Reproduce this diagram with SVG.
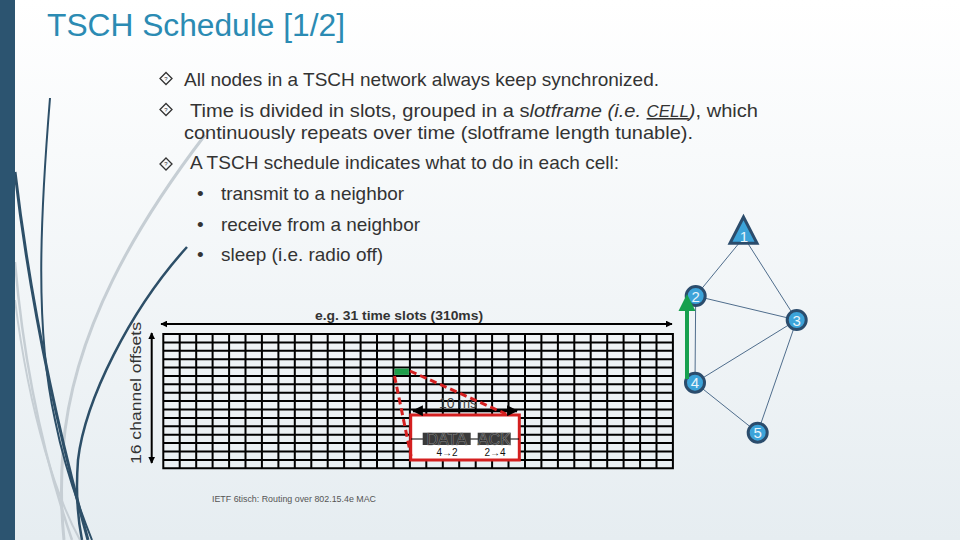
<svg xmlns="http://www.w3.org/2000/svg" width="960" height="540" viewBox="0 0 960 540">
<defs>
<linearGradient id="bg" x1="0" y1="0" x2="0" y2="1">
<stop offset="0" stop-color="#ffffff"/>
<stop offset="1" stop-color="#e6edf1"/>
</linearGradient>
<marker id="ah" viewBox="0 0 10 10" refX="9" refY="5" markerWidth="7" markerHeight="7" markerUnits="userSpaceOnUse" orient="auto-start-reverse">
<path d="M0,0 L10,5 L0,10 z" fill="#000"/>
</marker>
<marker id="ahb" viewBox="0 0 10 10" refX="9" refY="5" markerWidth="11" markerHeight="11" markerUnits="userSpaceOnUse" orient="auto-start-reverse">
<path d="M0,0 L10,5 L0,10 z" fill="#000"/>
</marker>
<style>
.t{font-family:"Liberation Sans",Arial,sans-serif;fill:#333;font-size:19px}
.dia{fill:none;stroke:#333;stroke-width:1.3}
.q{font-family:"Liberation Sans",Arial,sans-serif;font-size:6px;fill:#333;text-anchor:middle}
.edge{stroke:#4f6d8c;stroke-width:1;fill:none}
.node{fill:#3ca3d9;stroke:#2b4c6c;stroke-width:3}
.nl{font-family:"Liberation Sans",Arial,sans-serif;font-size:15px;fill:#e9f5fb;text-anchor:middle}
.dark{fill:none;stroke:#2d4f68}
.light{fill:none;stroke:#c6ced4}
</style>
</defs>
<rect x="0" y="0" width="960" height="540" fill="url(#bg)"/>
<g id="decoration">
<path class="light" stroke-width="3" d="M205,135 C140,220 72,330 63,450 C60,490 62,520 64,540"/>
<path class="light" stroke-width="2.5" d="M15,262 C25,380 48,470 72,540"/>
<path class="light" stroke-width="2" d="M15,300 C30,420 58,500 80,540"/>
<path class="dark" stroke-width="2" d="M50,98 C40,220 35,330 55,420 C65,470 80,510 92,540"/>
<path class="dark" stroke-width="3" d="M15,172 C30,300 55,420 88,540"/>
<path class="dark" stroke-width="2.5" d="M187,247 C130,310 85,400 78,460 C75,500 80,530 82,540"/>
<rect x="0" y="0" width="15" height="540" fill="#2c5470"/>
</g>
<text x="47" y="36" textLength="298" lengthAdjust="spacingAndGlyphs" font-family="Liberation Sans,Arial,sans-serif" font-size="31" fill="#2b8bb3">TSCH Schedule [1/2]</text>
<g id="bullets">
<polygon class="dia" points="166,72.5 172,78.5 166,84.5 160,78.5"/>
<text class="q" x="166" y="80.5">?</text>
<text class="t" x="184" y="86" textLength="475" lengthAdjust="spacingAndGlyphs">All nodes in a TSCH network always keep synchronized.</text>
<polygon class="dia" points="166,103.5 172,109.5 166,115.5 160,109.5"/>
<text class="q" x="166" y="111.5">?</text>
<text class="t" x="190" y="117" textLength="568" lengthAdjust="spacingAndGlyphs">Time is divided in slots, grouped in a s<tspan font-style="italic">lotframe (i.e. </tspan><tspan font-style="italic" text-decoration="underline" font-size="16">CELL</tspan><tspan font-style="italic">)</tspan>, which</text>
<text class="t" x="184" y="139" textLength="509" lengthAdjust="spacingAndGlyphs">continuously repeats over time (slotframe length tunable).</text>
<polygon class="dia" points="166,158 172,164 166,170 160,164"/>
<text class="q" x="166" y="166">?</text>
<text class="t" x="190" y="169" textLength="429" lengthAdjust="spacingAndGlyphs">A TSCH schedule indicates what to do in each cell:</text>
<text class="t" x="197" y="200">•</text>
<text class="t" x="221" y="200" textLength="183" lengthAdjust="spacingAndGlyphs">transmit to a neighbor</text>
<text class="t" x="197" y="231">•</text>
<text class="t" x="221" y="231" textLength="199" lengthAdjust="spacingAndGlyphs">receive from a neighbor</text>
<text class="t" x="197" y="261">•</text>
<text class="t" x="221" y="261" textLength="162" lengthAdjust="spacingAndGlyphs">sleep (i.e. radio off)</text>
</g>
<g id="schedule">
<path stroke="#000" stroke-width="2" fill="none" d="M163.3 334V468.3M179.7 334V468.3M196.2 334V468.3M212.6 334V468.3M229.1 334V468.3M245.5 334V468.3M261.9 334V468.3M278.4 334V468.3M294.8 334V468.3M311.3 334V468.3M327.7 334V468.3M344.1 334V468.3M360.6 334V468.3M377 334V468.3M393.5 334V468.3M409.9 334V468.3M426.3 334V468.3M442.8 334V468.3M459.2 334V468.3M475.7 334V468.3M492.1 334V468.3M508.5 334V468.3M525 334V468.3M541.4 334V468.3M557.9 334V468.3M574.3 334V468.3M590.7 334V468.3M607.2 334V468.3M623.6 334V468.3M640.1 334V468.3M656.5 334V468.3M672.9 334V468.3M162.3 334H673.9M162.3 342.4H673.9M162.3 350.8H673.9M162.3 359.2H673.9M162.3 367.6H673.9M162.3 375.9H673.9M162.3 384.3H673.9M162.3 392.7H673.9M162.3 401.1H673.9M162.3 409.5H673.9M162.3 417.9H673.9M162.3 426.3H673.9M162.3 434.7H673.9M162.3 443.1H673.9M162.3 451.5H673.9M162.3 459.9H673.9M162.3 468.3H673.9"/>
<rect x="394.5" y="368.6" width="14.4" height="6.3" fill="#1e9e4a"/>
<line x1="161" y1="324" x2="672" y2="324" stroke="#000" stroke-width="2" marker-start="url(#ah)" marker-end="url(#ah)"/>
<text x="315" y="320" textLength="168" lengthAdjust="spacingAndGlyphs" font-family="Liberation Sans,Arial,sans-serif" font-size="13" font-weight="bold" fill="#333">e.g. 31 time slots (310ms)</text>
<line x1="151.7" y1="333" x2="151.7" y2="463" stroke="#000" stroke-width="2" marker-start="url(#ah)" marker-end="url(#ah)"/>
<text transform="translate(141,464) rotate(-90)" textLength="142" lengthAdjust="spacingAndGlyphs" font-family="Liberation Sans,Arial,sans-serif" font-size="14" fill="#333">16 channel offsets</text>
</g>
<g id="timeslot">
<rect x="410.7" y="415" width="108.6" height="45" fill="#fff" stroke="#d42020" stroke-width="3"/>
<line x1="411" y1="439" x2="519" y2="439" stroke="#000" stroke-width="1"/>
<rect x="422.7" y="432.7" width="48" height="12.3" fill="#3a3a3a"/>
<text x="446.7" y="445" text-anchor="middle" font-family="Liberation Sans,Arial,sans-serif" font-size="16" fill="#1a1a1a" stroke="#8a8a8a" stroke-width="0.6">DATA</text>
<rect x="477.7" y="432.7" width="33" height="12.3" fill="#3a3a3a"/>
<text x="494.2" y="445" text-anchor="middle" font-family="Liberation Sans,Arial,sans-serif" font-size="16" fill="#1a1a1a" stroke="#8a8a8a" stroke-width="0.6">ACK</text>
<text x="447" y="456" text-anchor="middle" font-family="Liberation Sans,Arial,sans-serif" font-size="10" fill="#111">4→2</text>
<text x="495" y="456" text-anchor="middle" font-family="Liberation Sans,Arial,sans-serif" font-size="10" fill="#111">2→4</text>
<text x="458" y="408" text-anchor="middle" font-family="Liberation Sans,Arial,sans-serif" font-size="14" fill="#444">10 ms</text>
<line x1="413" y1="410.7" x2="517" y2="410.7" stroke="#000" stroke-width="3" marker-start="url(#ahb)" marker-end="url(#ahb)"/>
<g stroke="#d42020" stroke-width="3" stroke-dasharray="7,4" fill="none">
<line x1="394.5" y1="376" x2="411" y2="456"/>
<line x1="410" y1="371" x2="506" y2="414"/>
</g>
</g>
<g id="connectors">
<line class="edge" x1="740" y1="242" x2="695.7" y2="296"/>
<line class="edge" x1="747" y1="242" x2="796.7" y2="320"/>
<line class="edge" x1="695.7" y1="296" x2="796.7" y2="320"/>
<line class="edge" x1="695.7" y1="296" x2="695" y2="382.7"/>
<line class="edge" x1="796.7" y1="320" x2="695" y2="382.7"/>
<line class="edge" x1="796.7" y1="320" x2="757.7" y2="432.7"/>
<line class="edge" x1="695" y1="382.7" x2="757.7" y2="432.7"/>
</g>
<g id="node1"><polygon class="node" points="743.5,217 730,243.3 757,243.3"/><text class="nl" x="744" y="242">1</text></g>
<g id="node2"><circle class="node" cx="695.7" cy="296" r="9.5"/><text class="nl" x="695.7" y="301.5">2</text></g>
<g id="node3"><circle class="node" cx="796.7" cy="320" r="9.5"/><text class="nl" x="796.7" y="325.5">3</text></g>
<g id="node4"><circle class="node" cx="695" cy="382.7" r="9.5"/><text class="nl" x="695" y="388.2">4</text></g>
<g id="node5"><circle class="node" cx="757.7" cy="432.7" r="9.5"/><text class="nl" x="757.7" y="438.2">5</text></g>
<g id="green-arrow">
<line x1="687" y1="379" x2="687" y2="308" stroke="#17a04e" stroke-width="4"/>
<polygon points="687,294 678.5,311 695.5,311" fill="#17a04e"/>
</g>
<text x="212" y="502" textLength="164" lengthAdjust="spacingAndGlyphs" font-family="Liberation Sans,Arial,sans-serif" font-size="9" fill="#555">IETF 6tisch: Routing over 802.15.4e MAC</text>
</svg>
